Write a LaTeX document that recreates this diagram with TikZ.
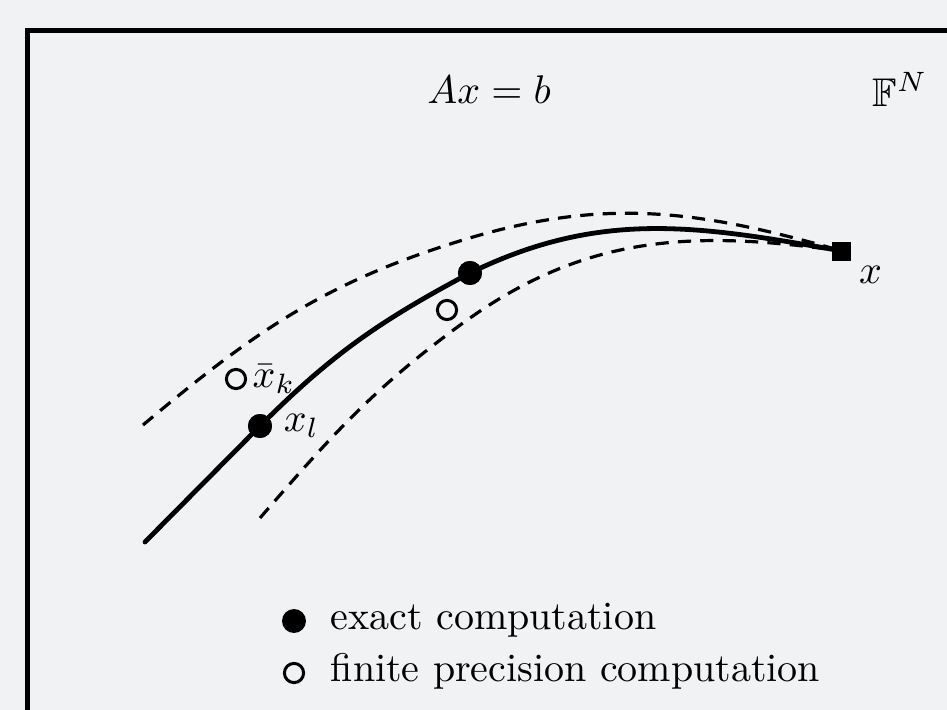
\documentclass[tikz,border=0pt]{standalone}
\usepackage{amsmath}
\usepackage{amssymb}
\usepackage{xcolor}
\usepackage{tikz}
\usetikzlibrary{positioning}
\definecolor{paper}{HTML}{F1F2F4}

\begin{document}
\begin{tikzpicture}[
        x=0.25pt, y=0.25pt,
        exact/.style={circle, fill=black, inner sep=0pt, minimum size=6pt},
        approx/.style={circle, draw=black, line width=0.75pt, fill=paper, inner sep=0pt, minimum size=4.8pt},
        sol/.style={rectangle, fill=black, inner sep=0pt, minimum size=4.75pt},
        iter/.style={line width=1.2pt, line cap=round},
        bound/.style={line width=0.8pt, dash pattern=on 3.3pt off 2.3pt},
        lbl/.style={inner sep=0pt},
    ]

    %% Canvas and frame
    \useasboundingbox (0,0) rectangle (947,710);
    \fill[paper] (0,0) rectangle (947,710);
    \clip (0,0) rectangle (947,710);
    \draw[line width=1.35pt] (27.5,679.5) rectangle (1000,-40);

    %% Titles
    \node[lbl, anchor=base] (eq) at (489,607) {$Ax=b$};
    \node[lbl, anchor=base west] (field) at (872,604) {$\mathbb{F}^N$};

    %% Points on the path
    \coordinate (start) at (145,168);
    \coordinate (up0) at (143,285);
    \coordinate (up1) at (463,470);
    \coordinate (lo0) at (260,192);
    \coordinate (lo1) at (463,387);
    \node[exact] (xl) at (260,284) {};
    \node[exact] (xm) at (470,437) {};
    \node[sol] (xs) at (842,459) {};

    %% Error band
    \draw[bound] (up0) to[out=40, in=197] (up1) to[out=17, in=164] (xs.center);
    \draw[bound] (lo0) to[out=49, in=216] (lo1) to[out=36, in=172] (xs.center);

    %% Exact iteration path
    \draw[iter] (start) -- (xl.center) to[out=45, in=208] (xm.center) to[out=26, in=170] (xs.center);

    %% Iterates (redrawn on top)
    \node[exact] at (xl) {};
    \node[exact] at (xm) {};
    \node[sol] at (xs) {};
    \node[approx] (xk) at (236,331) {};
    \node[approx] (xf) at (447,400) {};

    \node[lbl, right=1.2pt of xk] (xklab) {$\bar{x}_k$};
    \node[lbl, right=2.6pt of xl] (xllab) {$x_l$};
    \node[lbl, below right=1pt and 1.5pt of xs] (xslab) {$x$};

    %% Legend
    \node[lbl, anchor=base west] (txexact) at (330,80) {exact computation};
    \node[lbl, anchor=base west] (txfinite) at (330,28) {finite precision computation};
    \node[exact] (lgexact) at (294,89) {};
    \node[approx] (lgfinite) at (294,37) {};

\end{tikzpicture}
\end{document}
